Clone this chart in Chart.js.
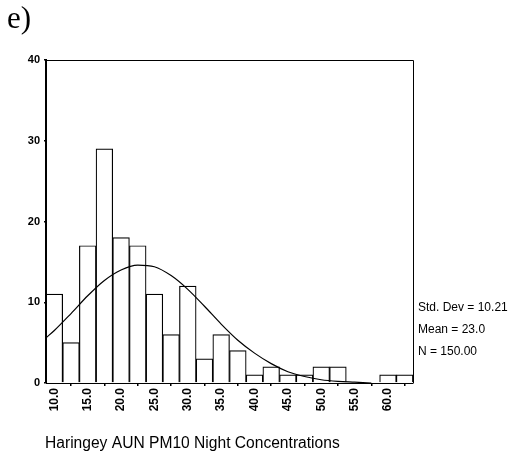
<!DOCTYPE html>
<html>
<head>
<meta charset="utf-8">
<script src="https://cdn.jsdelivr.net/npm/chart.js@4/dist/chart.umd.min.js"></script>
<style>
html,body{margin:0;padding:0;background:#fff;}
canvas{display:block;}
</style>
</head>
<body>
<canvas id="c" width="515" height="458"></canvas>
<script>
// Histogram bins (centres) and counts
const binCenters = [10, 12.5, 15, 17.5, 20, 22.5, 25, 27.5, 30, 32.5, 35, 37.5, 40, 42.5, 45, 47.5, 50, 52.5, 55, 57.5, 60, 62.5];
const counts     = [11, 5, 17, 29, 18, 17, 11, 6, 12, 3, 6, 4, 1, 2, 1, 1, 2, 2, 0, 0, 1, 1];
// Fitted normal curve
const curveX = [8.75, 10, 12.5, 15, 17.5, 20, 22.5, 25, 27.5, 30, 32.5, 35, 37.5, 40, 42.5, 45, 47.5, 50, 52.5, 55, 57.5];
const curveY = [5.6, 6.5, 8.6, 10.8, 12.7, 14.0, 14.6, 14.4, 13.3, 11.6, 9.5, 7.3, 5.3, 3.7, 2.4, 1.4, 0.8, 0.4, 0.2, 0.1, 0.0];
// Tick labels
const xTicks = [10, 15, 20, 25, 30, 35, 40, 45, 50, 55, 60];
const yTicks = [0, 10, 20, 30, 40];
const statsLines = ['Std. Dev = 10.21', 'Mean = 23.0', 'N = 150.00'];
const xTitle = 'Haringey AUN PM10 Night Concentrations';
const panelLabel = 'e)';

const FONT = '"Liberation Sans", Arial, sans-serif';

const decor = {
  id: 'decor',
  afterDraw(chart) {
    const ctx = chart.ctx;
    const a = chart.chartArea;
    ctx.save();
    ctx.strokeStyle = '#000';
    ctx.lineWidth = 1;
    ctx.beginPath();
    ctx.moveTo(a.left, a.top + 0.5);
    ctx.lineTo(a.right + 0.5, a.top + 0.5);
    ctx.lineTo(a.right + 0.5, a.bottom);
    ctx.stroke();
    ctx.lineWidth = 2;
    ctx.beginPath();
    ctx.moveTo(a.left, a.top);
    ctx.lineTo(a.left, a.bottom);
    ctx.stroke();
    ctx.fillStyle = '#000';
    ctx.font = '12px ' + FONT;
    ctx.textBaseline = 'middle';
    ctx.textAlign = 'left';
    const sy = [308, 330, 352];
    statsLines.forEach((t, i) => ctx.fillText(t, a.right + 5, sy[i]));
    ctx.font = '15.6px ' + FONT;
    ctx.fillText(xTitle, 45, 444);
    ctx.font = '31px "Liberation Serif", "Times New Roman", serif';
    ctx.textBaseline = 'alphabetic';
    ctx.fillText(panelLabel, 7, 28);
    ctx.restore();
  }
};

new Chart(document.getElementById('c'), {
  type: 'bar',
  data: {
    datasets: [
      {
        type: 'line',
        data: curveX.map((x, i) => ({x: x, y: curveY[i]})),
        borderColor: '#000',
        borderWidth: 1.2,
        pointRadius: 0,
        fill: false,
        cubicInterpolationMode: 'monotone',
        order: 0
      },
      {
        type: 'bar',
        data: binCenters.map((x, i) => ({x: x, y: counts[i]})),
        backgroundColor: '#fff',
        borderColor: '#000',
        borderWidth: 1.2,
        barPercentage: 1,
        categoryPercentage: 1,
        order: 1
      }
    ]
  },
  options: {
    responsive: false,
    devicePixelRatio: 1,
    animation: false,
    layout: { padding: { left: 0, right: 102, top: 60, bottom: 0 } },
    plugins: { legend: { display: false }, tooltip: { enabled: false } },
    scales: {
      x: {
        type: 'linear',
        min: 8.75,
        max: 63.75,
        offset: false,
        afterBuildTicks: s => { s.ticks = xTicks.map(v => ({value: v})); },
        afterFit: s => { s.height = 75; },
        ticks: {
          autoSkip: false,
          minRotation: 90,
          maxRotation: 90,
          padding: 2,
          color: '#000',
          font: { family: FONT, size: 12, weight: 'bold' },
          callback: v => Number(v).toFixed(1)
        },
        grid: { drawOnChartArea: false, drawTicks: true, tickLength: 3, color: '#000', lineWidth: 1.5 },
        border: { display: true, color: '#000', width: 1 }
      },
      y: {
        min: 0,
        max: 40,
        afterBuildTicks: s => { s.ticks = yTicks.map(v => ({value: v})); },
        afterFit: s => { s.width = 46; },
        ticks: {
          padding: 4,
          color: '#000',
          font: { family: FONT, size: 11, weight: 'bold' }
        },
        grid: { drawOnChartArea: false, drawTicks: true, tickLength: 2, color: '#000', lineWidth: 1.5 },
        border: { display: true, color: '#000', width: 2 }
      }
    }
  },
  plugins: [decor]
});
</script>
</body>
</html>
